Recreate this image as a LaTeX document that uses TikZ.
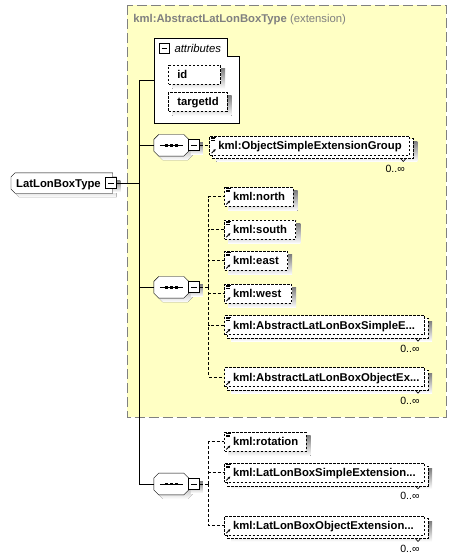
\documentclass[tikz,border=0pt]{standalone}
\usepackage{fontspec}
\setmainfont{Liberation Sans}
\usetikzlibrary{backgrounds,arrows.meta}
\definecolor{extfill}{RGB}{255,255,196}
\definecolor{extline}{RGB}{128,128,128}
\definecolor{shade}{RGB}{192,192,192}
\newcommand\efont{\bfseries\fontsize{11.3}{13.5}\selectfont}
\newcommand\ifont{\itshape\fontsize{11.3}{13.5}\selectfont}
\newcommand\mfont{\fontsize{10.5}{12}\selectfont}
\newcommand\estrut{\rule[-3pt]{0pt}{14pt}}
\newcommand\iconlines{\draw[solid,line width=0.8pt]
  ([shift={(1.5,1.2)}]path picture bounding box.north west) -- ++(4.5,0)
  ([shift={(1.5,2.8)}]path picture bounding box.north west) -- ++(4,0)
  ([shift={(1.5,4.4)}]path picture bounding box.north west) -- ++(3.5,0);}
\newcommand\iconarrow{\draw[solid,line width=0.8pt,-{Stealth[length=2.6pt,width=2.6pt]}]
  ([shift={(1.8,-1.8)}]path picture bounding box.south west) -- ++(4,-4);}
\newcommand\seqpath[2]{([shift={(5+#2,#2)}]#1.north west) -- ([shift={(-5+#2,#2)}]#1.north east) -- ([shift={(#2,5+#2)}]#1.north east) -- ([shift={(#2,-5+#2)}]#1.south east) -- ([shift={(-5+#2,#2)}]#1.south east) -- ([shift={(5+#2,#2)}]#1.south west) -- ([shift={(#2,-5+#2)}]#1.south west) -- ([shift={(#2,5+#2)}]#1.north west) -- cycle}
\newcommand\rootpath[2]{([shift={(4+#2,#2)}]#1.north west) -- ([shift={(#2,#2)}]#1.north east) -- ([shift={(#2,#2)}]#1.south east) -- ([shift={(4+#2,#2)}]#1.south west) -- ([shift={(#2,-4+#2)}]#1.south west) -- ([shift={(#2,4+#2)}]#1.north west) -- cycle}
\tikzset{
  elem/.style={draw, dash pattern=on 2.5pt off 1.5pt, fill=white, font=\efont, anchor=west,
    minimum height=19pt, inner xsep=0pt, inner ysep=0pt, text width=#1, align=left,
    execute at begin node={\hspace*{8.5pt}\estrut}},
  withtype/.style={path picture={\iconlines\iconarrow}},
  notype/.style={path picture={\iconarrow}},
  rootbox/.style={font=\efont, anchor=west, minimum height=19.4pt, inner xsep=0pt, inner ysep=0pt,
    text width=100.7pt, align=left, execute at begin node={\hspace*{4.7pt}\estrut}},
  minus/.style={draw, fill=white, minimum size=11pt, inner sep=0pt,
    path picture={\draw[solid,line width=1pt] ([shift={(2.5,0)}]path picture bounding box.west) -- ([shift={(-2.5,0)}]path picture bounding box.east);}},
  seq/.style={minimum width=34pt, minimum height=20.7pt, inner sep=0pt},
  conn/.style={dash pattern=on 3pt off 2pt},
  mult/.style={font=\mfont, inner sep=0pt, anchor=base east},
}
\begin{document}
\begin{tikzpicture}[x=1pt,y=-1pt,line width=1pt]
\useasboundingbox (0,0) rectangle (456,560);

% title of the extension
\node[anchor=base west, text=extline, font=\efont, inner sep=0pt] (title) at (132.8,22.5) {kml:AbstractLatLonBoxType \mdseries(extension)};

% root type
\node[rootbox] (ltb) at (11,183) {LatLonBoxType};
\node[minus] (ltbm) at (111.3,183) {};
\coordinate (trunk) at (139.3,183);

% attributes
\node[minimum width=84.4pt, minimum height=84pt, inner sep=0pt] (attr) at (196.5,80.3) {};
\node[minus, minimum size=10pt] (attrm) at (164,48.3) {};
\node[anchor=base west, font=\ifont, inner sep=0pt] (attrl) at (174,52.5) {attributes};
\node[elem=51.7pt] (id) at (168.3,74.7) {id};
\node[elem=58.4pt] (targetId) at (168.3,101.7) {targetId};

% sequence 1
\node[seq] (s1) at (171.3,145.3) {};
\node[minus] (s1m) at (193.8,145.3) {};
\node[elem=200pt, withtype] (oseg) at (209.3,145.5) {kml:ObjectSimpleExtensionGroup};

% sequence 2
\node[seq] (s2) at (171.3,287.3) {};
\node[minus] (s2m) at (193.8,287.3) {};
\coordinate (b2) at (208.7,287.3);
\node[elem=68.7pt, withtype] (nN) at (224,196.8) {kml:north};
\node[elem=71.3pt, withtype] (nS) at (224,229.5) {kml:south};
\node[elem=63pt, withtype] (nE) at (224,260.8) {kml:east};
\node[elem=67pt, withtype] (nW) at (224,293.5) {kml:west};
\node[elem=200pt, withtype] (allbs) at (224,325.2) {kml:AbstractLatLonBoxSimpleE...};
\node[elem=200pt, notype] (allbo) at (224,377.2) {kml:AbstractLatLonBoxObjectEx...};

% sequence 3
\node[seq] (s3) at (171.3,484) {};
\node[minus] (s3m) at (193.8,484) {};
\coordinate (b3) at (208.7,484);
\node[elem=81.7pt, withtype] (rot) at (224,441.8) {kml:rotation};
\node[elem=200pt, withtype] (llbs) at (224,472.8) {kml:LatLonBoxSimpleExtension...};
\node[elem=200pt, notype] (llbo) at (224,525.5) {kml:LatLonBoxObjectExtension...};

% multiplicities
\foreach \n in {oseg,allbs,allbo,llbs,llbo}{
  \node[mult] (\n-m) at ([shift={(-5,16.8)}]\n.south east) {0..∞};
  \draw[line width=0.6pt] ([shift={(-9.5,3.2)}]\n.south east) -- ++(2.5,2.8) -- ++(2.5,-2.8);
}

% sequence symbols
\foreach \s in {s1,s2,s3}{
  \draw ([shift={(-11.5,0)}]\s.center) -- ([shift={(11.5,0)}]\s.center);
  \foreach \dx in {-5,0,5}
    \fill ([shift={(\dx-1.4,-1.4)}]\s.center) rectangle ([shift={(\dx+1.4,1.4)}]\s.center);
}

% connectors
\draw (ltbm.east) -- (trunk);
\draw (trunk) |- (attr.west);
\draw (trunk) |- (s1.west);
\draw (trunk) |- (s2.west);
\draw (trunk) |- (s3.west);
\draw[conn] (s1m.east) -- (s1m.east -| oseg.west);
\draw[conn] (s2m.east) -- (b2);
\foreach \n in {nN,nS,nE,nW,allbs,allbo} \draw[conn] (b2) |- (\n.west);
\draw[conn] (s3m.east) -- (b3);
\foreach \n in {rot,llbs,llbo} \draw[conn] (b3) |- (\n.west);

% background layer: extension box, outlines, shadows
\begin{scope}[on background layer]
  \draw[draw=extline, fill=extfill, dash pattern=on 10pt off 4pt] (126.7,5) rectangle (445.7,417);
  \draw[fill=white] (attr.north west) -- ([shift={(73.4,0)}]attr.north west) -- ([shift={(73.4,18.4)}]attr.north west) -- ([shift={(0,18.4)}]attr.north east) -- (attr.south east) -- (attr.south west) -- cycle;
  \foreach \n in {id,targetId,nN,nS,nE,nW,rot}
    \fill[shade] ([shift={(4,4)}]\n.north west) rectangle ([shift={(4,4)}]\n.south east);
  \foreach \n in {oseg,allbs,allbo,llbs,llbo}
    \fill[shade] ([shift={(7,6)}]\n.north west) rectangle ([shift={(7,6)}]\n.south east);
  \foreach \s in {s1,s2,s3} \fill[shade] \seqpath{\s}{4};
  \fill[shade] \rootpath{ltb}{4};
  \foreach \m in {ltbm,s1m,s2m,s3m}
    \fill[shade] ([shift={(3,3)}]\m.north west) rectangle ([shift={(3,3)}]\m.south east);
  \foreach \n in {oseg,allbs,allbo,llbs,llbo}
    \draw[fill=white, dash pattern=on 2.5pt off 1.5pt] ([shift={(3,3)}]\n.north west) rectangle ([shift={(3,3)}]\n.south east);
  \draw[fill=white] \rootpath{ltb}{0};
  \foreach \s in {s1,s2,s3} \draw[fill=white] \seqpath{\s}{0};
\end{scope}
\end{tikzpicture}
\end{document}
